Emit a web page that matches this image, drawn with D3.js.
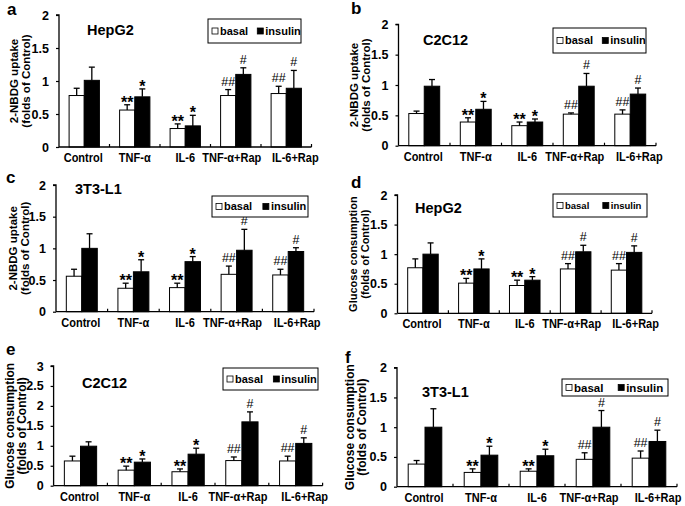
<!DOCTYPE html>
<html><head><meta charset="utf-8">
<script src="https://cdn.jsdelivr.net/npm/d3@7"></script>
<style>
body{margin:0;background:#fff}
svg{display:block}
text{font-family:"Liberation Sans",Arial,Helvetica,sans-serif}
</style>
</head><body>
<svg id="chart" width="685" height="506"></svg>
<script>
// ---------- data ----------
const categories = ["Control", "TNF-α", "IL-6", "TNF-α+Rap", "IL-6+Rap"];
const seriesNames = ["basal", "insulin"];
const yTicks2 = [0, 0.5, 1, 1.5, 2];
const yTicks3 = [0, 0.5, 1, 1.5, 2, 2.5, 3];
const basalMarks = ["", "**", "**", "##", "##"];
const insulinMarks = ["", "*", "*", "#", "#"];

// a: HepG2 2-NBDG uptake
const aBasal = [0.78, 0.56, 0.28, 0.78, 0.81];
const aBasalSD = [0.11, 0.08, 0.07, 0.09, 0.11];
const aInsulin = [1.01, 0.76, 0.32, 1.10, 0.89];
const aInsulinSD = [0.20, 0.12, 0.16, 0.10, 0.27];
// b: C2C12 2-NBDG uptake
const bBasal = [0.53, 0.39, 0.33, 0.52, 0.52];
const bBasalSD = [0.04, 0.07, 0.06, 0.02, 0.07];
const bInsulin = [0.98, 0.60, 0.39, 0.98, 0.85];
const bInsulinSD = [0.11, 0.13, 0.05, 0.21, 0.10];
// c: 3T3-L1 2-NBDG uptake
const cBasal = [0.56, 0.37, 0.38, 0.59, 0.58];
const cBasalSD = [0.11, 0.08, 0.07, 0.13, 0.09];
const cInsulin = [1.00, 0.63, 0.79, 0.97, 0.95];
const cInsulinSD = [0.23, 0.19, 0.08, 0.33, 0.06];
// d: HepG2 glucose consumption
const dBasal = [0.77, 0.51, 0.47, 0.75, 0.73];
const dBasalSD = [0.15, 0.08, 0.09, 0.09, 0.11];
const dInsulin = [1.00, 0.75, 0.56, 1.04, 1.03];
const dInsulinSD = [0.19, 0.17, 0.06, 0.11, 0.11];
// e: C2C12 glucose consumption
const eBasal = [0.62, 0.39, 0.35, 0.63, 0.62];
const eBasalSD = [0.12, 0.10, 0.07, 0.09, 0.12];
const eInsulin = [0.99, 0.59, 0.79, 1.60, 1.06];
const eInsulinSD = [0.11, 0.08, 0.15, 0.25, 0.14];
// f: 3T3-L1 glucose consumption
const fBasal = [0.38, 0.24, 0.26, 0.46, 0.48];
const fBasalSD = [0.06, 0.06, 0.04, 0.11, 0.12];
const fInsulin = [1.00, 0.53, 0.52, 1.00, 0.76];
const fInsulinSD = [0.31, 0.15, 0.11, 0.28, 0.19];

const uptakeTitle = ["2-NBDG uptake", "(folds of Control)"];
const glucoseTitle = ["Glucose consumption", "(folds of Control)"];

// ---------- layout ----------
const labelDx = [-1, 0, 0, -4, 9];   // x-label nudges (px) so long labels don't collide

const panels = [
  {letter:"a", cell:"HepG2", yTitle:uptakeTitle, ticks:yTicks2,
   basal:aBasal, basalSD:aBasalSD, insulin:aInsulin, insulinSD:aInsulinSD,
   L:{x0:59, x1:311.5, yb:147, yt:15, leg:[208,19,93,24], legFs:11, title:[87,35], lab:[7,15], ytX:[14,26], ytFs:11.5}},
  {letter:"b", cell:"C2C12", yTitle:uptakeTitle, ticks:yTicks2,
   basal:bBasal, basalSD:bBasalSD, insulin:bInsulin, insulinSD:bInsulinSD,
   L:{x0:398.5, x1:656, yb:145.7, yt:24.3, leg:[553,28,93,25], legFs:11, title:[423,45], lab:[351,14], ytX:[354,366], ytFs:11.5}},
  {letter:"c", cell:"3T3-L1", yTitle:uptakeTitle, ticks:yTicks2,
   basal:cBasal, basalSD:cBasalSD, insulin:cInsulin, insulinSD:cInsulinSD,
   L:{x0:56, x1:314, yb:311.7, yt:185, leg:[212,196,96,21], legFs:11, title:[75,194], lab:[6,183], ytX:[13,25], ytFs:11.5}},
  {letter:"d", cell:"HepG2", yTitle:glucoseTitle, ticks:yTicks2,
   basal:dBasal, basalSD:dBasalSD, insulin:dInsulin, insulinSD:dInsulinSD,
   L:{x0:397.5, x1:652, yb:313.3, yt:195, leg:[553,194,94,23], legFs:9.5, title:[415,213], lab:[351,188], ytX:[353,365], ytFs:11}},
  {letter:"e", cell:"C2C12", yTitle:glucoseTitle, ticks:yTicks3,
   basal:eBasal, basalSD:eBasalSD, insulin:eInsulin, insulinSD:eInsulinSD,
   L:{x0:53.6, x1:322.6, yb:485.7, yt:366, leg:[223,368,95,22], legFs:11, title:[82,388], lab:[6,355], ytX:[10,22], ytFs:12}},
  {letter:"f", cell:"3T3-L1", yTitle:glucoseTitle, ticks:yTicks2,
   basal:fBasal, basalSD:fBasalSD, insulin:fInsulin, insulinSD:fInsulinSD,
   L:{x0:397, x1:677, yb:486.7, yt:367.7, leg:[562,379,106,17], legFs:11.5, title:[422,397], lab:[345,363], ytX:[350,362], ytFs:12}}
];

const svg = d3.select("#chart");

panels.forEach(p => {
  const L = p.L;
  const g = svg.append("g");
  const yMax = d3.max(p.ticks);
  const x = d3.scaleBand().domain(categories).range([L.x0, L.x1]).paddingInner(0).paddingOuter(0);
  const y = d3.scaleLinear().domain([0, yMax]).range([L.yb, L.yt]);
  const bw = x.bandwidth() * 0.3;

  // panel letter
  g.append("text").attr("x", L.lab[0]).attr("y", L.lab[1])
    .attr("font-size", 17).attr("font-weight", "bold").text(p.letter);

  // y axis
  const yAxis = d3.axisLeft(y).tickValues(p.ticks).tickSize(3).tickPadding(7).tickFormat(d3.format(""));
  const ya = g.append("g").attr("transform", `translate(${L.x0},0)`).call(yAxis);
  ya.select(".domain").attr("stroke", "#000").attr("stroke-width", 1.3).attr("d", `M-3,${L.yt}H0V${L.yb}`);
  ya.selectAll(".tick line").attr("stroke", "#000").attr("stroke-width", 1.2);
  ya.selectAll(".tick text").attr("font-size", 12.5).attr("font-weight", "bold").attr("fill", "#000")
    .attr("font-family", '"Liberation Sans",Arial,sans-serif');

  // y title
  const yMid = (L.yb + L.yt) / 2;
  p.yTitle.forEach((t, i) => {
    g.append("text")
      .attr("transform", `translate(${L.ytX[i] + 4},${yMid}) rotate(-90)`)
      .attr("text-anchor", "middle").attr("font-size", L.ytFs).attr("font-weight", "bold").text(t);
  });

  // bars + error bars + significance marks
  const series = [
    {name:"basal", vals:p.basal, sd:p.basalSD, fill:"#fff", off:-bw, marks:basalMarks},
    {name:"insulin", vals:p.insulin, sd:p.insulinSD, fill:"#000", off:0, marks:insulinMarks}
  ];
  series.forEach(s => {
    categories.forEach((c, i) => {
      const cx = x(c) + x.bandwidth() / 2 + s.off;
      const v = s.vals[i], top = v + s.sd[i];
      g.append("rect").attr("x", cx).attr("y", y(v)).attr("width", bw).attr("height", y(0) - y(v))
        .attr("fill", s.fill).attr("stroke", "#000").attr("stroke-width", 1);
      const mx = cx + bw / 2;
      g.append("line").attr("x1", mx).attr("x2", mx).attr("y1", y(v)).attr("y2", y(top))
        .attr("stroke", "#000").attr("stroke-width", 1.3);
      g.append("line").attr("x1", mx - 3).attr("x2", mx + 3).attr("y1", y(top)).attr("y2", y(top))
        .attr("stroke", "#000").attr("stroke-width", 1.3);
      const m = s.marks[i];
      if (m) {
        const isStar = m.indexOf("*") >= 0;
        g.append("text").attr("x", mx).attr("y", isStar ? y(top) + 3 : y(top) - 4)
          .attr("text-anchor", "middle").attr("font-size", isStar ? 16 : 12.5)
          .attr("font-weight", isStar ? "bold" : "normal").text(m);
      }
    });
  });

  // x axis
  g.append("line").attr("x1", L.x0).attr("x2", L.x1).attr("y1", L.yb).attr("y2", L.yb)
    .attr("stroke", "#000").attr("stroke-width", 1.3);
  categories.forEach((c, i) => {
    const bx = x(c) + x.bandwidth();
    g.append("line").attr("x1", bx).attr("x2", bx).attr("y1", L.yb).attr("y2", L.yb - 3)
      .attr("stroke", "#000").attr("stroke-width", 1.2);
    g.append("text")
      .attr("transform", `translate(${x(c) + x.bandwidth() / 2 + labelDx[i]},${L.yb + 15}) scale(0.88,1)`)
      .attr("text-anchor", "middle").attr("font-size", 12.5).attr("font-weight", "bold").text(c);
  });

  // cell title
  g.append("text").attr("x", L.title[0]).attr("y", L.title[1])
    .attr("font-size", 14.5).attr("font-weight", "bold").text(p.cell);

  // legend
  const [lx, ly, lw, lh] = L.leg;
  const lg = g.append("g");
  lg.append("rect").attr("x", lx).attr("y", ly).attr("width", lw).attr("height", lh)
    .attr("fill", "#fff").attr("stroke", "#000").attr("stroke-width", 1);
  const cy = ly + lh / 2;
  const items = [
    {name:seriesNames[0], fill:"#fff", sx:lx + 4},
    {name:seriesNames[1], fill:"#000", sx:lx + lw * 0.53}
  ];
  items.forEach(it => {
    lg.append("rect").attr("x", it.sx).attr("y", cy - 3).attr("width", 6).attr("height", 6)
      .attr("fill", it.fill).attr("stroke", "#000").attr("stroke-width", 0.8);
    lg.append("text").attr("x", it.sx + 8).attr("y", cy + L.legFs * 0.36)
      .attr("font-size", L.legFs).attr("font-weight", "bold").text(it.name);
  });
});
</script>
</body></html>
